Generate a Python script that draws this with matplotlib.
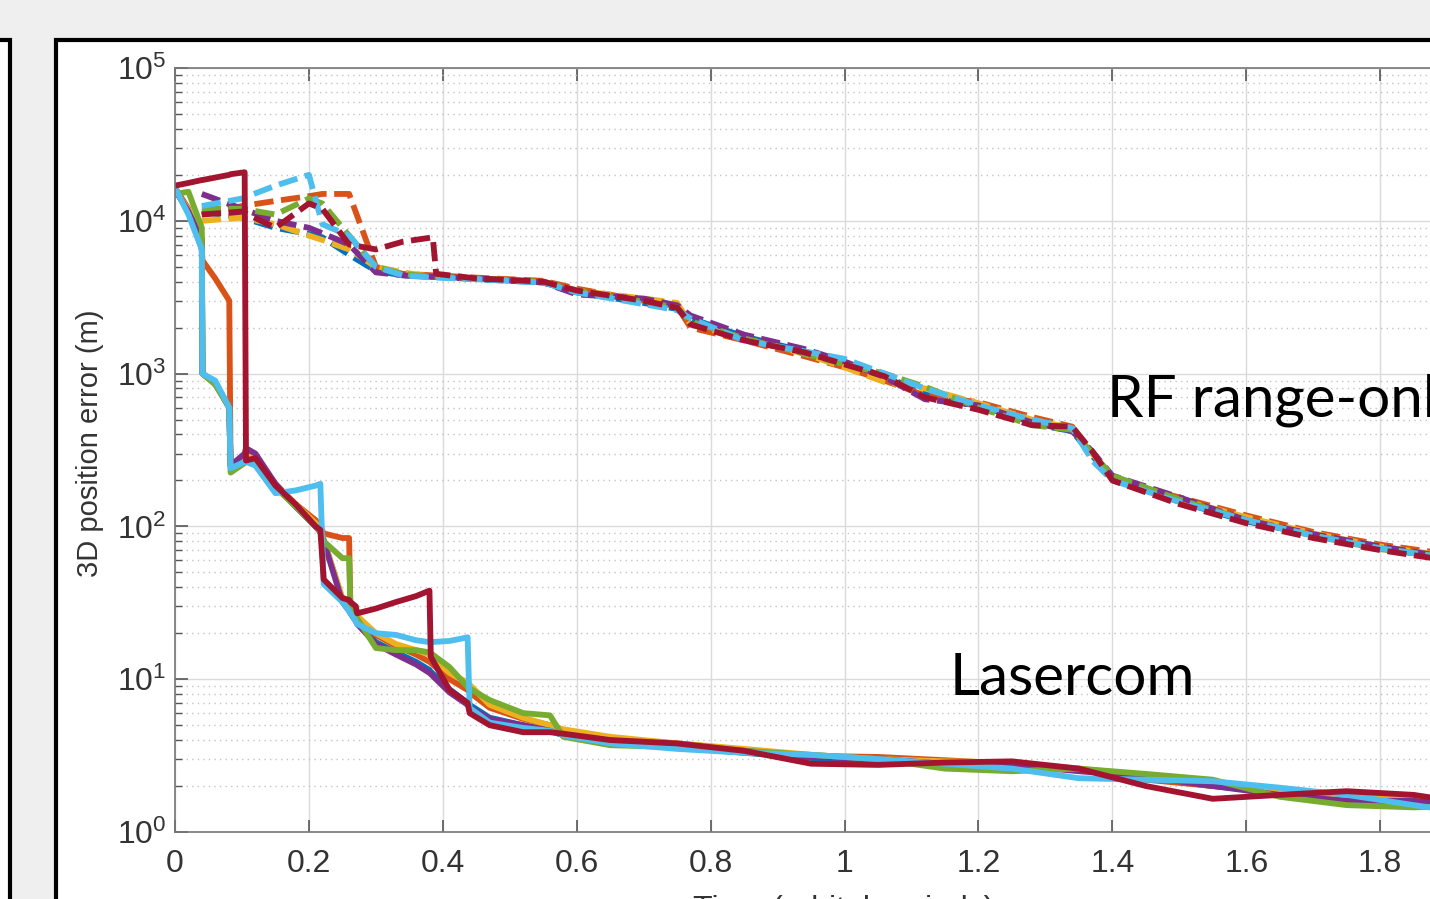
import matplotlib
matplotlib.use("Agg")
import matplotlib.pyplot as plt
from matplotlib.patches import Rectangle
import numpy as np

# MATLAB default colour order
colors = ['#0072BD', '#D95319', '#EDB120', '#7E2F8E', '#77AC30', '#4DBEEE', '#A2142F']

# ---- Lasercom runs (solid) ----
t_lc = [0.0, 0.02, 0.04, 0.041, 0.06, 0.081, 0.083, 0.104, 0.106, 0.12,
        0.15, 0.18, 0.21, 0.217, 0.222, 0.25, 0.26, 0.262, 0.27, 0.272,
        0.30, 0.33, 0.36, 0.38, 0.382, 0.41, 0.437, 0.44, 0.47, 0.52,
        0.56, 0.58, 0.65, 0.75, 0.85, 0.95, 1.05, 1.15, 1.25, 1.35,
        1.45, 1.55, 1.65, 1.75, 1.85, 1.95, 2.0]

lc_blue = [16000, 11500, 7500, 1000, 860, 600, 250, 285, 295, 285,
           185, 135, 100, 92, 82, 33, 29, 28, 25, 24,
           17.5, 15, 13, 11.5, 11.2, 8.6, 7.0, 6.8, 5.6, 5.0,
           4.6, 4.3, 3.9, 3.6, 3.3, 3.05, 2.9, 2.8, 2.7, 2.55,
           2.25, 2.0, 1.8, 1.65, 1.55, 1.4, 1.3]
lc_orange = [16500, 12000, 6500, 5500, 4200, 3000, 250, 280, 290, 280,
             190, 140, 110, 100, 90, 84, 84, 28, 26, 25,
             19.5, 16.5, 14.5, 13, 12.8, 10, 8.5, 8.2, 6.5, 5.5,
             5.0, 4.6, 4.1, 3.8, 3.45, 3.15, 3.1, 2.95, 2.8, 2.55,
             2.2, 2.0, 1.9, 1.75, 1.55, 1.4, 1.35]
lc_yellow = [16000, 11800, 7800, 1000, 850, 600, 250, 280, 290, 280,
             185, 140, 105, 95, 82, 34, 30, 29, 27, 26,
             20, 17, 15.5, 14.5, 14, 11, 9.5, 9.2, 6.8, 5.6,
             5.0, 4.7, 4.2, 3.8, 3.5, 3.2, 3.0, 2.9, 2.85, 2.6,
             2.35, 2.1, 1.85, 1.7, 1.65, 1.5, 1.4]
lc_purple = [16000, 11500, 7500, 1000, 870, 600, 250, 300, 325, 300,
             190, 135, 100, 92, 80, 32, 28, 27, 24, 23,
             17, 14.5, 12.5, 11, 10.8, 8.2, 6.8, 6.5, 5.5, 5.0,
             4.6, 4.3, 3.9, 3.6, 3.4, 3.1, 3.0, 2.8, 2.75, 2.5,
             2.3, 2.0, 1.75, 1.6, 1.6, 1.45, 1.35]
lc_green = [15000, 15500, 9000, 1000, 850, 600, 225, 260, 270, 260,
            180, 135, 100, 92, 80, 62, 62, 30, 26, 25,
            16, 15.5, 15.5, 15, 14.8, 12, 8.9, 8.7, 7.3, 6.0,
            5.8, 4.2, 3.7, 3.6, 3.4, 3.2, 3.0, 2.6, 2.5, 2.6,
            2.4, 2.2, 1.7, 1.5, 1.45, 1.5, 1.45]
lc_lightblue = [16500, 11000, 6500, 1000, 900, 600, 240, 265, 265, 250,
                165, 172, 185, 190, 42, 32, 28, 27, 24, 23,
                20, 19.5, 18, 17.5, 17.5, 17.8, 18.8, 6.5, 5.2, 4.8,
                4.6, 4.3, 3.8, 3.5, 3.3, 3.2, 3.0, 2.8, 2.6, 2.25,
                2.2, 2.15, 1.95, 1.75, 1.5, 1.3, 1.25]
lc_red = [17000, 17700, 18500, 18500, 19200, 20000, 20200, 20800, 270, 280,
          185, 140, 100, 95, 45, 34, 33, 32, 30, 27,
          29, 32, 35, 38, 14, 8.5, 7.0, 6.0, 5.0, 4.5,
          4.5, 4.4, 4.0, 3.8, 3.4, 2.8, 2.75, 2.85, 2.9, 2.6,
          2.0, 1.65, 1.75, 1.85, 1.75, 1.5, 1.4]

# ---- RF range-only runs (dashed) ----
t_rf = [0.04, 0.10, 0.15, 0.20, 0.22, 0.26, 0.30, 0.34, 0.385, 0.39,
        0.45, 0.55, 0.60, 0.70, 0.75, 0.77, 0.85, 0.94, 1.00, 1.06,
        1.12, 1.20, 1.28, 1.34, 1.37, 1.40, 1.50, 1.60, 1.70, 1.80,
        1.90, 2.00]

rf_blue = [11500, 10500, 9000, 8200, 7800, 6000, 4700, 4400, 4300, 4300,
           4150, 3950, 3400, 2900, 2650, 2300, 1750, 1400, 1150, 950,
           760, 600, 470, 420, 290, 205, 145, 108, 88, 72, 62, 53]
rf_orange = [11000, 12500, 13500, 14500, 15000, 15000, 5000, 4500, 4400, 4400,
             4250, 4050, 3600, 3000, 2750, 2000, 1650, 1300, 1100, 900,
             720, 650, 520, 450, 280, 200, 155, 118, 92, 76, 66, 57]
rf_yellow = [10000, 10500, 9500, 8000, 7500, 6500, 5000, 4600, 4300, 4300,
             4200, 4000, 3500, 3100, 2900, 2100, 1700, 1350, 1100, 880,
             800, 640, 500, 440, 300, 210, 150, 115, 90, 74, 64, 56]
rf_purple = [15000, 12000, 10000, 9000, 8300, 7000, 4600, 4400, 4300, 4300,
             4200, 3950, 3300, 3100, 2800, 2400, 1800, 1450, 1200, 950,
             680, 620, 480, 420, 310, 215, 155, 110, 89, 74, 63, 55]
rf_green = [12000, 12000, 11000, 14000, 13000, 8000, 5000, 4500, 4300, 4300,
            4200, 4000, 3500, 2950, 2700, 2200, 1700, 1350, 1150, 1000,
            820, 600, 460, 430, 300, 215, 150, 110, 87, 71, 63, 58]
rf_lightblue = [12500, 14000, 17000, 20000, 9500, 8000, 5000, 4400, 4250, 4250,
                4150, 3950, 3400, 2850, 2600, 2300, 1650, 1400, 1250, 1000,
                800, 620, 500, 440, 270, 200, 145, 110, 87, 72, 62, 54]
rf_red = [11000, 11500, 9000, 13000, 12000, 7000, 6500, 7300, 7800, 4500,
          4200, 4000, 3500, 3000, 2700, 2100, 1650, 1380, 1150, 960,
          700, 580, 460, 450, 310, 200, 140, 105, 84, 70, 60, 52]

lasercom = [lc_blue, lc_orange, lc_yellow, lc_purple, lc_green, lc_lightblue, lc_red]
rf_only = [rf_blue, rf_orange, rf_yellow, rf_purple, rf_green, rf_lightblue, rf_red]

plt.rcParams['font.family'] = ['Liberation Sans Narrow', 'Liberation Sans', 'DejaVu Sans']
plt.rcParams['mathtext.fontset'] = 'custom'
plt.rcParams['mathtext.rm'] = 'Liberation Sans Narrow'
plt.rcParams['mathtext.default'] = 'regular'

fig = plt.figure(figsize=(14.3, 8.99), dpi=100)
fig.patch.set_facecolor('#efefef')

# slide boxes
fig.add_artist(Rectangle((-0.05, -0.05), 0.057, 1.0055, transform=fig.transFigure,
                         facecolor='white', edgecolor='black', linewidth=3, zorder=0))
fig.add_artist(Rectangle((0.0392, -0.05), 1.1, 1.0055, transform=fig.transFigure,
                         facecolor='white', edgecolor='black', linewidth=3, zorder=0))

ax = fig.add_axes([0.1224, 0.0745, 0.9364, 0.8498])
ax.set_yscale('log')
ax.set_xlim(0, 2)
ax.set_ylim(1, 1e5)

for y, c in zip(rf_only, colors):
    ax.plot(t_rf, y, color=c, linewidth=4.2, linestyle=(0, (3.3, 1.3)))
for y, c in zip(lasercom, colors):
    ax.plot(t_lc, y, color=c, linewidth=4.2)

ax.set_xticks(np.arange(0, 2.01, 0.2))
ax.set_xticklabels(['0', '0.2', '0.4', '0.6', '0.8', '1', '1.2', '1.4', '1.6', '1.8', '2'])
ax.set_yticks([1, 10, 100, 1e3, 1e4, 1e5])
ax.set_yticklabels([r'$10^{%d}$' % k for k in range(6)])

ax.grid(True, which='major', color='#dadada', linewidth=1)
ax.grid(True, which='minor', axis='y', color='#c4c4c4', linewidth=1.0, linestyle=(0, (1, 3)))
ax.set_axisbelow(True)

ax.tick_params(which='both', direction='in', top=True, right=True, colors='#555555',
               labelcolor='#333333', labelsize=23)
ax.tick_params(which='major', length=9, width=1.2)
ax.tick_params(which='minor', length=5, width=1.0)
ax.tick_params(axis='x', pad=12)
ax.tick_params(axis='y', pad=6)
for s in ax.spines.values():
    s.set_color('#777777')
    s.set_linewidth(1.2)

fig.text(0.0629, 0.507, '3D position error (m)', rotation=90, ha='center', va='center',
         fontsize=21, color='#333333', family=['Liberation Sans', 'DejaVu Sans'])
fig.text(0.59, -0.021, 'Time (orbital periods)', ha='center', va='baseline',
         fontsize=23, color='#333333')

fig.text(0.7741, 0.5362, 'RF range-only', fontsize=42, color='black',
         family=['Lato', 'DejaVu Sans'], va='baseline')
fig.text(0.6643, 0.2269, 'Lasercom', fontsize=42, color='black',
         family=['Lato', 'DejaVu Sans'], va='baseline')

fig.savefig('out.png', dpi=100, facecolor=fig.get_facecolor())
